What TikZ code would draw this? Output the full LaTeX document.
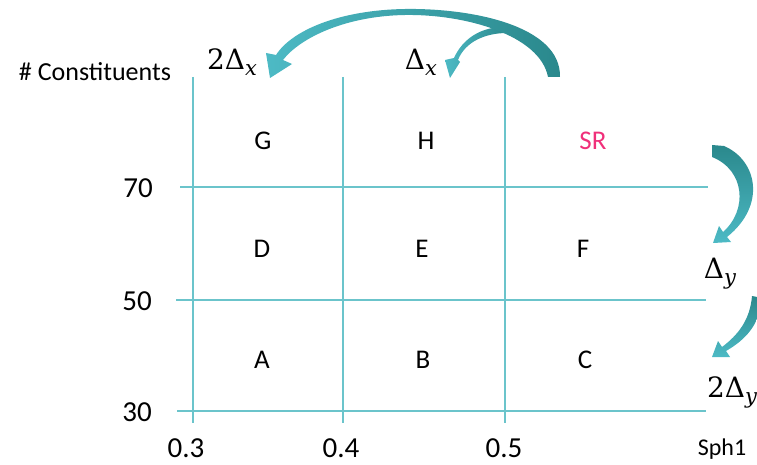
\documentclass[tikz,border=0pt]{standalone}
\usepackage{fontspec}
\setmainfont{Carlito}
\newfontfamily\dejas{DejaVu Serif}
\newcommand{\dsub}[1]{\raisebox{-6pt}{\fontsize{21}{21}\selectfont\dejas\itshape #1}}
\begin{document}
\begin{tikzpicture}[x=1pt,y=-1pt,
  gridline/.style={draw=gridc,line width=1.4pt},
  lbl/.style={inner sep=0pt,anchor=center,font=\fontsize{27}{30}\selectfont},
  axnum/.style={inner sep=0pt,anchor=center,font=\fontsize{29}{32}\selectfont},
  dlt/.style={inner sep=0pt,anchor=center,font=\fontsize{28}{30}\selectfont\dejas},
  arrowfill/.style={draw=none}]
\definecolor{gridc}{HTML}{6BC4CB}
\definecolor{tlight}{HTML}{4DBAC5}
\definecolor{tdark}{HTML}{2A888C}
\definecolor{srpink}{HTML}{F0307A}
\useasboundingbox (0,0) rectangle (757,465);
% grid coordinates
\coordinate (v1t) at (193,77); \coordinate (v1b) at (193,423);
\coordinate (v2t) at (343,77); \coordinate (v2b) at (343,423);
\coordinate (v3t) at (505,77); \coordinate (v3b) at (505,423);
\coordinate (h1l) at (180,187); \coordinate (h1r) at (708,187);
\coordinate (h2l) at (176,300); \coordinate (h2r) at (706,300);
\coordinate (h3l) at (177,411); \coordinate (h3r) at (706,411);
\draw[gridline] (v1t) -- (v1b);
\draw[gridline] (v2t) -- (v2b);
\draw[gridline] (v3t) -- (v3b);
\draw[gridline] (h1l) -- (h1r);
\draw[gridline] (h2l) -- (h2r);
\draw[gridline] (h3l) -- (h3r);
% labels
\node[lbl,font=\fontsize{26}{28}\selectfont] (ylab) at (95,72) {\# Constituents};
\node[axnum] (y70) at (138,188) {70};
\node[axnum] (y50) at (137,301) {50};
\node[axnum] (y30) at (137,412) {30};
\node[axnum] (x03) at (186,448) {0.3};
\node[axnum] (x04) at (341,448) {0.4};
\node[axnum] (x05) at (504,448) {0.5};
\node[lbl,font=\fontsize{24}{26}\selectfont] (xlab) at (722,449) {Sph1};
\node[lbl] (G) at (263,141) {G};
\node[lbl] (H) at (426,141) {H};
\node[lbl,text=srpink] (SR) at (593,141) {SR};
\node[lbl] (D) at (262,249) {D};
\node[lbl] (E) at (422,249) {E};
\node[lbl] (F) at (583,249) {F};
\node[lbl] (A) at (262,360) {A};
\node[lbl] (B) at (423,360) {B};
\node[lbl] (C) at (585,360) {C};
\node[dlt] (dx2) at (232,62) {2Δ\dsub{x}};
\node[dlt] (dx1) at (421,62) {Δ\dsub{x}};
\node[dlt] (dy1) at (720,274) {Δ\dsub{y}};
\node[dlt] (dy2) at (732,392) {2Δ\dsub{y}};
% curved block arrows
\shade[arrowfill,left color=tlight,right color=tdark]
  (507,27) .. controls (480,26) and (462,40) .. (454,58) -- (445,60) -- (450,78) -- (460,62) -- (458,60)
  .. controls (465,42) and (485,33) .. (507,33) -- cycle;
\shade[arrowfill,left color=tlight,right color=tdark]
  (560,77) .. controls (561,25) and (470,8) .. (405,9)
  .. controls (340,10) and (292,30) .. (276,55) -- (266,53) -- (270,78) -- (292,64) -- (283,60)
  .. controls (300,38) and (345,16) .. (405,15)
  .. controls (465,14) and (540,35) .. (548,77) -- cycle;
\shade[arrowfill,top color=tdark,bottom color=tlight]
  (712,145) -- (724,146) .. controls (757,160) and (767,205) .. (727,237) -- (731,242) -- (713,243) -- (719,226) -- (723,232)
  .. controls (748,210) and (745,170) .. (712,157) -- cycle;
\shade[arrowfill,top color=tdark,bottom color=tlight]
  (752,296) -- (762,298) .. controls (760,325) and (745,340) .. (726,351) -- (730,357) -- (712,357) -- (718,341) -- (722,347)
  .. controls (738,335) and (750,320) .. (752,296) -- cycle;
\end{tikzpicture}
\end{document}
